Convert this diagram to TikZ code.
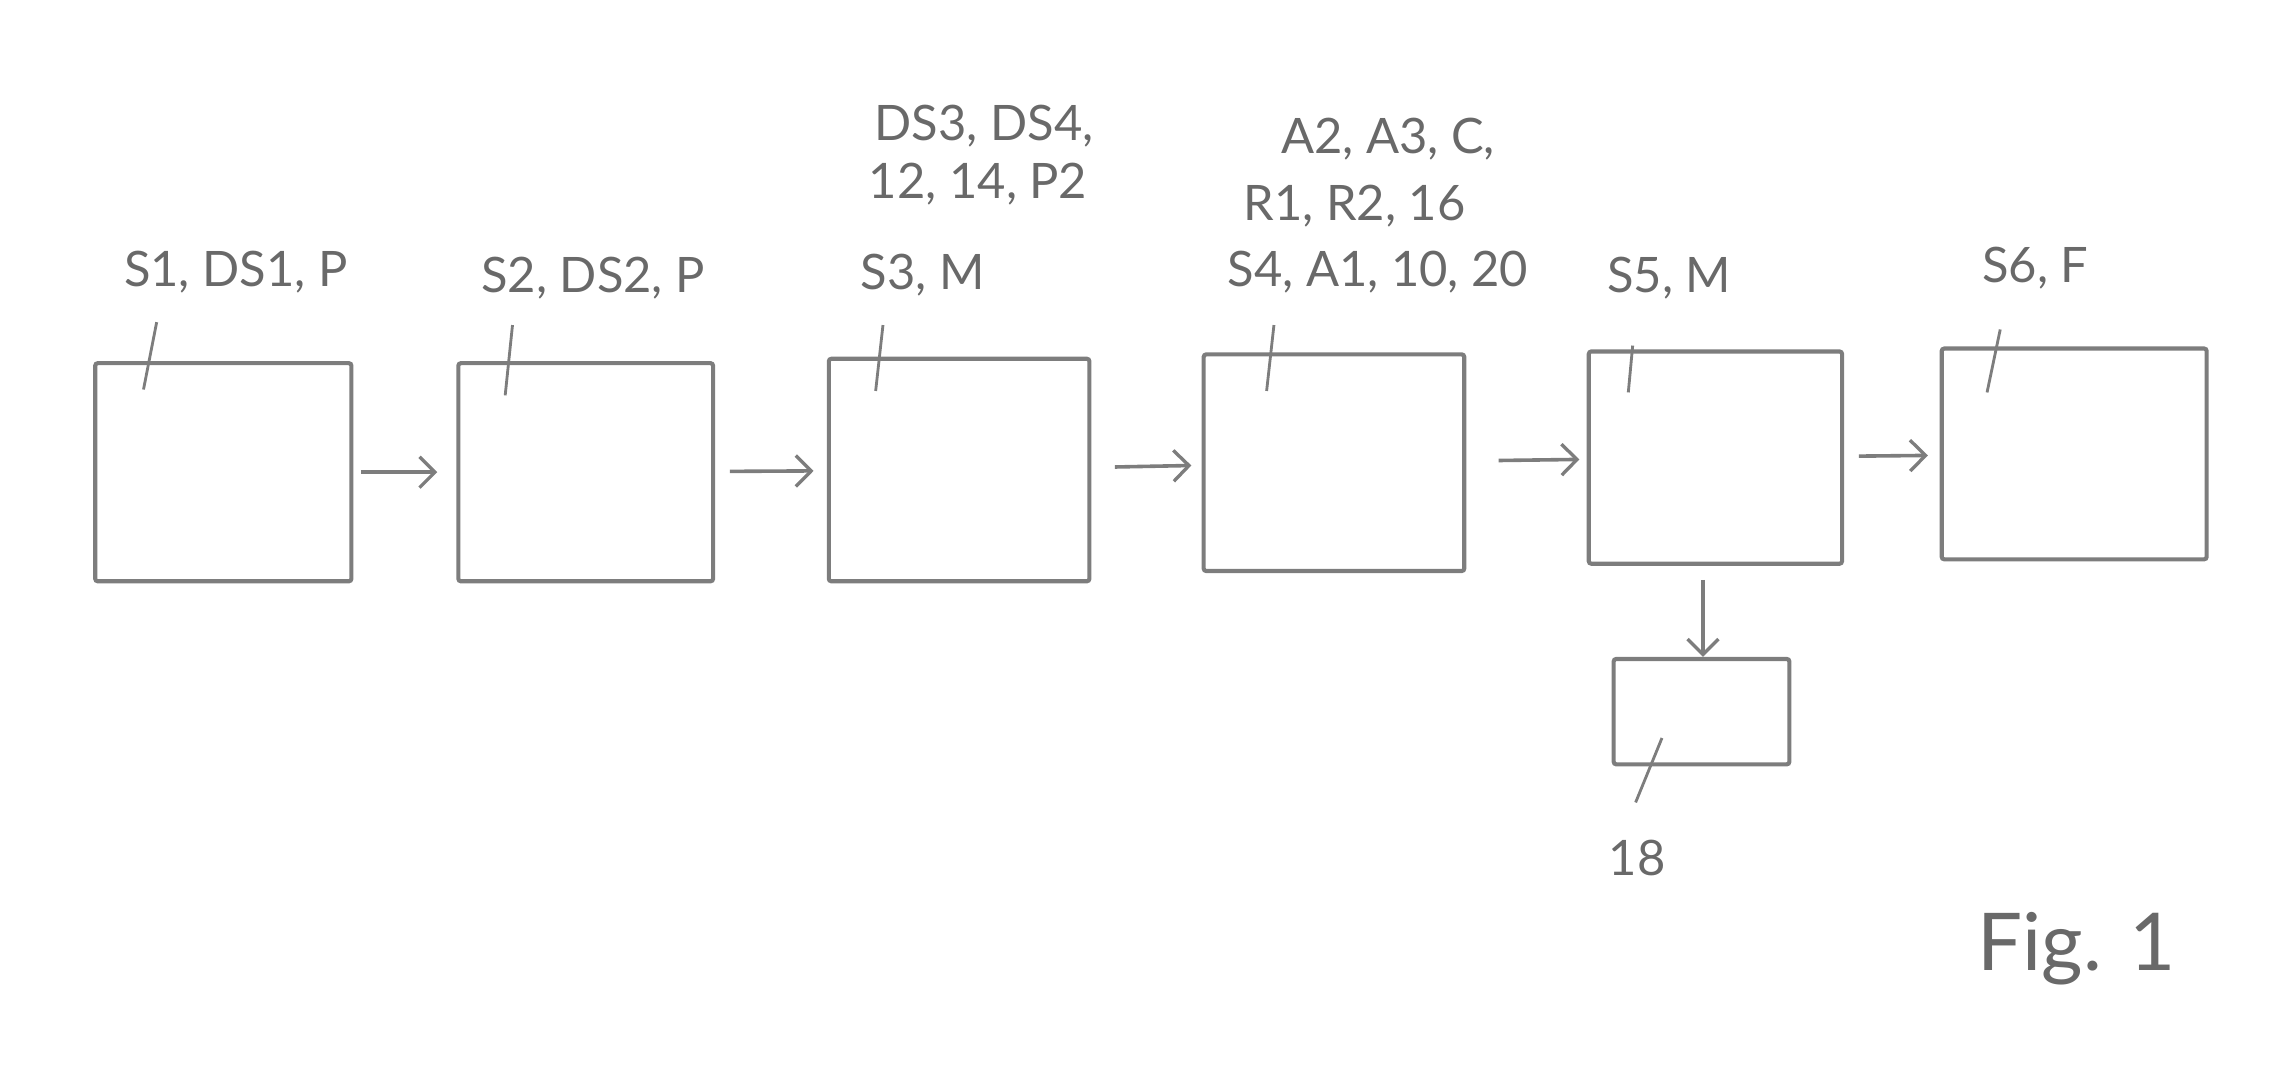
\documentclass[tikz,border=0pt]{standalone}
\usepackage{fontspec}
\setmainfont{Lato}
\usetikzlibrary{arrows.meta}
\definecolor{pencil}{RGB}{125,125,125}
\definecolor{pentext}{RGB}{105,105,105}
\begin{document}
\begin{tikzpicture}[x=0.02cm,y=-0.02cm,
  blk/.style={draw=pencil, line width=1.6pt, rounded corners=1pt, inner sep=0pt},
  arr/.style={draw=pencil, line width=1.4pt, -{Straight Barb[length=6pt,width=12pt,line width=1.3pt]}},
  lead/.style={draw=pencil, line width=1.1pt},
  lbl/.style={text=pentext, font=\fontsize{19}{23}\selectfont, inner sep=0pt, align=left}
]
\useasboundingbox (0,0) rectangle (1568,733);
% boxes
\node[blk, minimum width=3.5cm, minimum height=2.98cm] (b1) at (152.5,322.5) {};
\node[blk, minimum width=3.48cm, minimum height=2.98cm] (b2) at (400,322.5) {};
\node[blk, minimum width=3.56cm, minimum height=3.04cm] (b3) at (655,321) {};
\node[blk, minimum width=3.56cm, minimum height=2.96cm] (b4) at (911,316) {};
\node[blk, minimum width=3.46cm, minimum height=2.9cm] (b5) at (1171.5,312.5) {};
\node[blk, minimum width=3.62cm, minimum height=2.88cm] (b6) at (1416.5,310) {};
\node[blk, minimum width=2.4cm, minimum height=1.44cm] (b7) at (1162,486) {};
% arrows
\draw[arr, shorten <=0.1cm, shorten >=0.26cm] (b1) -- (b2);
\draw[arr, shorten <=0.2cm, shorten >=0.18cm] (b2) -- (b3);
\draw[arr, shorten <=0.32cm, shorten >=0.14cm] (b3) -- (b4);
\draw[arr, shorten <=0.44cm, shorten >=0.1cm] (b4) -- (b5);
\draw[arr, shorten <=0.2cm, shorten >=0.16cm] (b5) -- (b6);
\coordinate (d1) at (1163,396);
\draw[arr] (d1) -- (b7.north -| d1);
% labels
\node[lbl] (t1) at (161,186) {S1, DS1, P};
\node[lbl] (t2) at (405,190) {S2, DS2, P};
\node[lbl] (t3a) at (672,86) {DS3, DS4,};
\node[lbl] (t3b) at (668,126) {12, 14, P2};
\node[lbl] (t3) at (630,188) {S3, M};
\node[lbl] (t4a) at (948,95) {A2, A3, C,};
\node[lbl] (t4b) at (925,141) {R1, R2, 16};
\node[lbl] (t4) at (941,186) {S4, A1, 10, 20};
\node[lbl] (t5) at (1140,190) {S5, M};
\node[lbl] (t6) at (1390,183) {S6, F};
\node[lbl] (t7) at (1118,586) {18};
\node[text=pentext, font=\fontsize{31}{37}\selectfont, inner sep=0pt] (fig) at (1418,648) {Fig. 1};
% leader lines
\coordinate (e1a) at (107,220); \coordinate (e1b) at (98,266);
\coordinate (e2a) at (350,222); \coordinate (e2b) at (345,270);
\coordinate (e3a) at (603,222); \coordinate (e3b) at (598,267);
\coordinate (e4a) at (870,222); \coordinate (e4b) at (865,267);
\coordinate (e5a) at (1115,236); \coordinate (e5b) at (1112,268);
\coordinate (e6a) at (1366,225); \coordinate (e6b) at (1357,268);
\coordinate (e7a) at (1135,504); \coordinate (e7b) at (1117,548);
\draw[lead] (e1a) -- (e1b);
\draw[lead] (e2a) -- (e2b);
\draw[lead] (e3a) -- (e3b);
\draw[lead] (e4a) -- (e4b);
\draw[lead] (e5a) -- (e5b);
\draw[lead] (e6a) -- (e6b);
\draw[lead] (e7a) -- (e7b);
\end{tikzpicture}
\end{document}
